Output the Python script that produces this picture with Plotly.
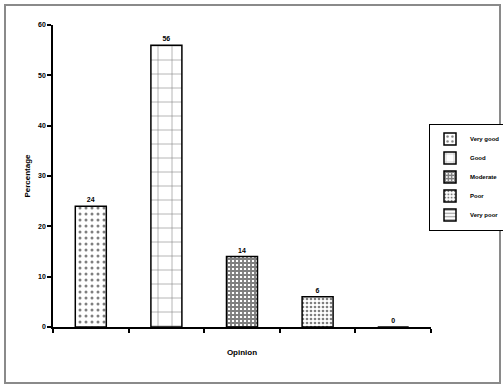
import plotly.graph_objects as go

categories = ["Very good", "Good", "Moderate", "Poor", "Very poor"]
values = [24, 56, 14, 6, 0]
y_ticks = [0, 10, 20, 30, 40, 50, 60]
patterns = [".", "+", "+", ".", "-"]
pattern_sizes = [6, 14, 4, 4, 4]
pattern_solidity = [0.2, 0.08, 0.72, 0.35, 0.3]

fig = go.Figure()
for i, (cat, val) in enumerate(zip(categories, values)):
    fig.add_trace(go.Bar(
        x=[i], y=[val], name=cat, width=0.41,
        marker=dict(color="white", line=dict(color="black", width=1.5),
                    pattern=dict(shape=patterns[i], size=pattern_sizes[i],
                                 solidity=pattern_solidity[i],
                                 fgcolor="black", bgcolor="white")),
        text=[str(val)], textposition="outside", cliponaxis=False,
        textfont=dict(size=7, color="black", family="Liberation Sans", weight="bold"),
    ))

L, R, T, B = 53, 72, 25, 59
W, H = 503, 386
pw, ph = W - L - R, H - T - B

fig.update_layout(
    width=W, height=H, barmode="overlay",
    margin=dict(l=L, r=R, t=T, b=B, autoexpand=False),
    paper_bgcolor="white", plot_bgcolor="white",
    font=dict(family="Liberation Sans", size=7, color="black"),
    showlegend=True,
    legend=dict(xref="container", yref="container",
                x=429 / W, y=1 - 177 / H, xanchor="left", yanchor="middle",
                bordercolor="black", borderwidth=1, bgcolor="white",
                font=dict(size=6, family="Liberation Sans", weight="bold", color="black"),
                itemwidth=30, tracegroupgap=0),
    xaxis=dict(range=[-0.5, len(categories) - 0.5],
               tickvals=[k - 0.5 for k in range(len(categories) + 1)],
               showticklabels=False, ticks="outside", ticklen=4, tickwidth=1.5,
               tickcolor="black", showline=True, linecolor="black", linewidth=1.5,
               showgrid=False, zeroline=False, automargin=False,
               title=dict(text="<b>Opinion</b>", font=dict(size=8), standoff=18)),
    yaxis=dict(range=[0, 60], tickvals=y_ticks, ticktext=[f"<b>{v}</b>" for v in y_ticks],
               ticks="outside", ticklen=4, tickwidth=1.5, tickcolor="black",
               showline=True, linecolor="black", linewidth=1.5,
               showgrid=False, zeroline=False, automargin=False,
               title=dict(text="<b>Percentage</b>", font=dict(size=8), standoff=6)),
)

fig.add_shape(type="rect", xref="paper", yref="paper",
              x0=(5 - L) / pw, x1=(500 - L) / pw,
              y0=(H - B - 383) / ph, y1=(H - B - 5) / ph,
              line=dict(color="#8a8a8a", width=2), layer="below")

fig.write_html("out.html", config={"displayModeBar": False},
               post_script="document.body.style.margin='0';document.body.style.overflow='hidden';")
